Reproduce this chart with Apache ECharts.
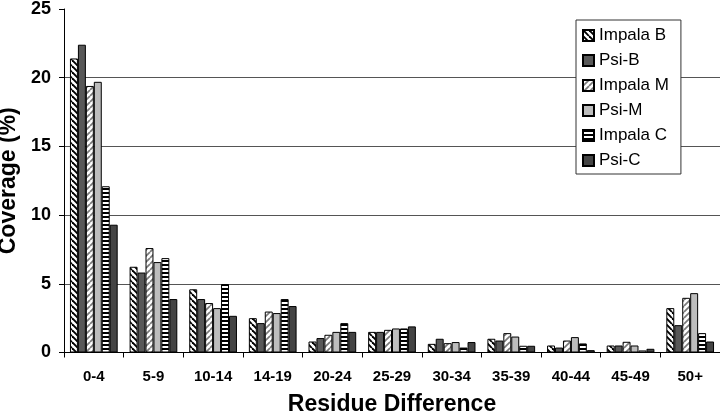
<!DOCTYPE html>
<html><head><meta charset="utf-8">
<script src="https://cdn.jsdelivr.net/npm/echarts@6/dist/echarts.min.js"></script>
<style>html,body{margin:0;padding:0;background:#fff}#c{width:720px;height:415px}</style>
</head><body><div id="c"></div>
<script>
const categories = ['0-4','5-9','10-14','14-19','20-24','25-29','30-34','35-39','40-44','45-49','50+'];
const seriesNames = ['Impala B','Psi-B','Impala M','Psi-M','Impala C','Psi-C'];
const impalaB = [21.4, 6.24, 4.6, 2.5, 0.8, 1.5, 0.63, 1.0, 0.51, 0.51, 3.23];
const psiB    = [22.4, 5.82, 3.89, 2.14, 1.05, 1.5, 1.0, 0.87, 0.36, 0.51, 1.99];
const impalaM = [19.4, 7.6, 3.6, 2.98, 1.29, 1.65, 0.68, 1.41, 0.87, 0.78, 3.98];
const psiM    = [19.7, 6.58, 3.23, 2.87, 1.5, 1.75, 0.76, 1.16, 1.12, 0.51, 4.32];
const impalaC = [12.1, 6.87, 4.98, 3.89, 2.14, 1.75, 0.36, 0.49, 0.66, 0.15, 1.41];
const psiC    = [9.3, 3.89, 2.67, 3.38, 1.5, 1.9, 0.76, 0.49, 0.17, 0.27, 0.8];
const yTicks = [0, 5, 10, 15, 20, 25];

function diag(dir, color, s, lw) {
  const c = document.createElement('canvas');
  c.width = s; c.height = s;
  const g = c.getContext('2d');
  g.fillStyle = '#fff'; g.fillRect(0, 0, s, s);
  g.strokeStyle = color; g.lineWidth = lw;
  for (const k of [-s, 0, s]) {
    g.beginPath();
    if (dir === 'back') { g.moveTo(k, 0); g.lineTo(k + s, s); }
    else { g.moveTo(k, s); g.lineTo(k + s, 0); }
    g.stroke();
  }
  return { image: c, repeat: 'repeat' };
}
function horiz(color, p, h) {
  const c = document.createElement('canvas');
  c.width = 4; c.height = p;
  const g = c.getContext('2d');
  g.fillStyle = '#fff'; g.fillRect(0, 0, 4, p);
  g.fillStyle = color; g.fillRect(0, 0, 4, h);
  return { image: c, repeat: 'repeat' };
}
const fills = [
  diag('back', '#000', 6, 1.9),
  '#585858',
  diag('fwd', '#7a7a7a', 6, 1.7),
  '#bdbdbd',
  horiz('#000', 4, 2),
  '#444444'
];
const values = [impalaB, psiB, impalaM, psiM, impalaC, psiC];
const FF = 'Liberation Sans, Arial, sans-serif';

const chart = echarts.init(document.getElementById('c'), null, { renderer: 'canvas' });
chart.setOption({
  animation: false,
  backgroundColor: '#fff',
  grid: { left: 64, right: 0, top: 9, bottom: 62.5, containLabel: false, outerBoundsMode: 'none' },
  legend: {
    orient: 'vertical', left: 576, top: 20,
    icon: 'rect', itemWidth: 11, itemHeight: 11, itemGap: 8,
    padding: [7, 12, 5, 6],
    backgroundColor: '#fff', borderColor: '#333', borderWidth: 1,
    textStyle: { fontSize: 17, color: '#000', fontFamily: FF },
    data: seriesNames
  },
  xAxis: {
    type: 'category', data: categories,
    axisLine: { lineStyle: { color: '#000', width: 1 } },
    axisTick: { show: true, length: 5, lineStyle: { color: '#000' } },
    axisLabel: { color: '#000', fontSize: 15, fontWeight: 'bold', fontFamily: FF, margin: 17 },
    name: 'Residue Difference', nameLocation: 'middle', nameGap: 41,
    nameTextStyle: { color: '#000', fontSize: 23, fontWeight: 'bold', fontFamily: FF }
  },
  yAxis: {
    type: 'value', min: 0, max: 25, interval: 5,
    axisLine: { show: true, lineStyle: { color: '#000', width: 1 } },
    axisTick: { show: true, length: 5, lineStyle: { color: '#000' } },
    axisLabel: { color: '#000', fontSize: 18, fontWeight: 'bold', fontFamily: FF, margin: 13 },
    splitLine: { show: true, lineStyle: { color: ['transparent','#555','#555','#555','#555','transparent'], width: 1 } },
    name: 'Coverage (%)', nameLocation: 'middle', nameGap: 40,
    nameTextStyle: { color: '#000', fontSize: 23, fontWeight: 'bold', fontFamily: FF }
  },
  series: seriesNames.map((n, i) => ({
    name: n, type: 'bar', data: values[i],
    barGap: '0%', barCategoryGap: '20%',
    itemStyle: { color: fills[i], borderColor: '#000', borderWidth: 1 }
  }))
});
</script></body></html>
